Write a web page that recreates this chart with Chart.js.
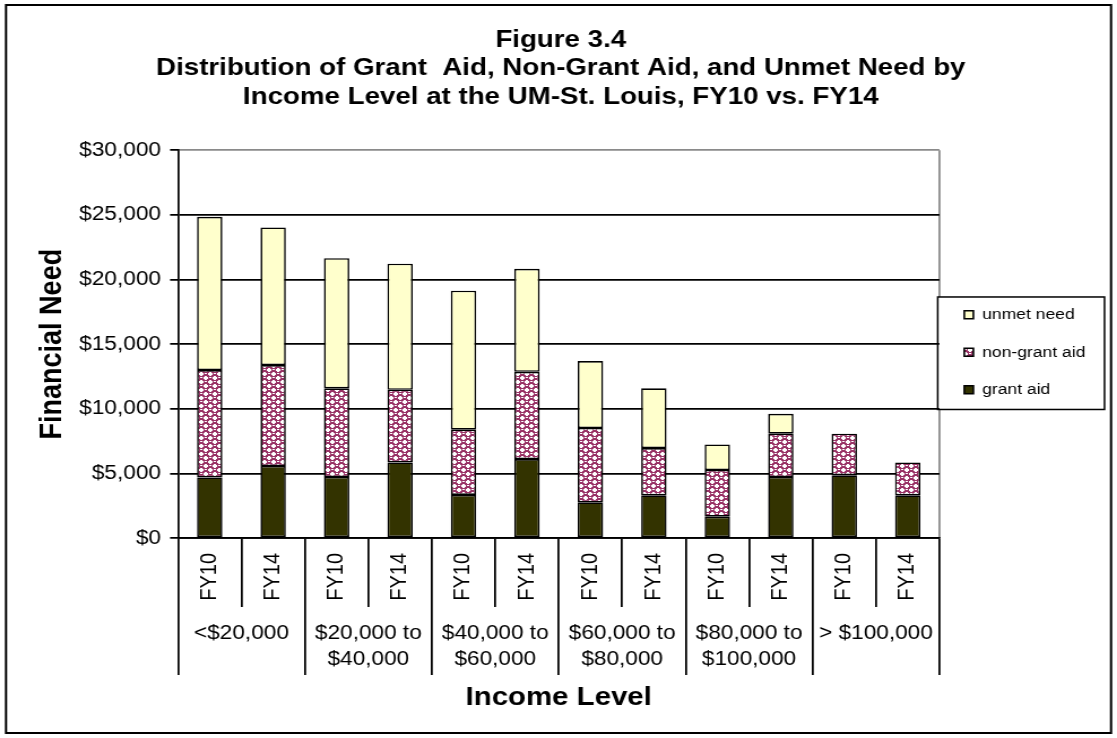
<!DOCTYPE html>
<html>
<head>
<meta charset="utf-8">
<title>Figure 3.4</title>
<script src="https://cdn.jsdelivr.net/npm/chart.js@4.4.1/dist/chart.umd.min.js"></script>
<style>
  html, body { margin: 0; padding: 0; background: #fff; overflow: hidden; }
  /* the figure is laid out on a narrower canvas and widened to the page */
  #wrap { width: 988px; height: 738px; transform: scaleX(1.1306); transform-origin: 0 0; }
</style>
</head>
<body>
<div id="wrap"><canvas id="needChart" width="988" height="738"></canvas></div>
<script>
// bar labels (two per income bracket)
const fiscalYears = ['FY10', 'FY14', 'FY10', 'FY14', 'FY10', 'FY14',
                     'FY10', 'FY14', 'FY10', 'FY14', 'FY10', 'FY14'];
// income brackets shown under each FY10/FY14 pair
const incomeLevels = [['<$20,000'], ['$20,000 to', '$40,000'], ['$40,000 to', '$60,000'],
                      ['$60,000 to', '$80,000'], ['$80,000 to', '$100,000'], ['> $100,000']];

// dollars per student, bottom to top of each stack
const grantAid    = [4690, 5570, 4720, 5850, 3330, 6110, 2760, 3300, 1650, 4720, 4850, 3300];
const nonGrantAid = [8300, 7810, 6860, 5620, 5050, 6750, 5750, 3660, 3610, 3350, 3220, 2550];
const unmetNeed   = [11860, 10650, 10070, 9750, 10750, 7970, 5180, 4620, 1980, 1540, 0, 0];

const yTicks = [0, 5000, 10000, 15000, 20000, 25000, 30000];

Chart.defaults.font.family = '"Liberation Sans", Arial, sans-serif';
Chart.defaults.color = '#000';

// magenta fill with white checker holes, used for the non-grant aid segments
function checkerPattern() {
  const tile = document.createElement('canvas');
  tile.width = 8;
  tile.height = 8;
  const t = tile.getContext('2d');
  t.fillStyle = '#993366';
  t.fillRect(0, 0, 8, 8);
  t.fillStyle = '#ffffff';
  [[4, 0], [0, 4]].forEach(([x, y]) => {
    t.fillRect(x, y + 1, 4, 2);
    t.fillRect(x + 1, y, 2, 4);
  });
  // small highlight in each magenta cell
  t.fillRect(1, 1, 2, 1);
  t.fillRect(5, 5, 2, 1);
  return t.createPattern(tile, 'repeat');
}

// white page, outer frame, right plot edge and the boxed legend
const frame = {
  id: 'frame',
  beforeDraw(chart) {
    const c = chart.ctx;
    const a = chart.chartArea;
    const lg = chart.legend;
    c.save();
    c.fillStyle = '#fff';
    c.fillRect(0, 0, chart.width, chart.height);

    c.strokeStyle = '#8a8a8a';
    c.lineWidth = 1.75;
    c.beginPath();
    c.moveTo(a.right, a.top);
    c.lineTo(a.right, a.bottom);
    c.stroke();

    const hits = lg.legendHitBoxes;
    const last = hits[hits.length - 1];
    const top = hits[0].top - 10;
    const bottom = last.top + last.height + 12;
    c.fillStyle = '#fff';
    c.fillRect(lg.left - 1.5, top, 147.5, bottom - top);
    c.strokeStyle = '#000';
    c.lineWidth = 1.5;
    c.strokeRect(lg.left - 1.5, top, 147.5, bottom - top);
    c.restore();
  },
  afterDraw(chart) {
    const c = chart.ctx;
    c.save();
    c.strokeStyle = '#000';
    c.lineWidth = 2;
    c.strokeRect(5.3, 5, 977.4, 728);
    c.restore();
  }
};

const barStyle = {
  borderColor: '#000',
  borderWidth: 1.6,
  borderSkipped: false,
  barPercentage: 0.4,
  categoryPercentage: 1.0
};

new Chart(document.getElementById('needChart'), {
  type: 'bar',
  data: {
    labels: fiscalYears,
    datasets: [
      { label: 'grant aid', data: grantAid, backgroundColor: '#333300', ...barStyle },
      { label: 'non-grant aid', data: nonGrantAid, backgroundColor: checkerPattern(), ...barStyle },
      { label: 'unmet need', data: unmetNeed, backgroundColor: '#FFFFCC', ...barStyle }
    ]
  },
  options: {
    responsive: false,
    animation: false,
    devicePixelRatio: 1,
    layout: { padding: { top: 5, left: 22, right: 18, bottom: 23 } },
    plugins: {
      title: {
        display: true,
        text: ['Figure 3.4',
               'Distribution of Grant  Aid, Non-Grant Aid, and Unmet Need by',
               'Income Level at the UM-St. Louis, FY10 vs. FY14'],
        color: '#000',
        font: { size: 24.5, weight: 'bold', lineHeight: 1.16 },
        padding: { top: 21, bottom: 39 }
      },
      legend: {
        position: 'right',
        fullSize: false,
        reverse: true,
        // empty heading only pushes the entries down a little
        title: { display: true, text: '', padding: 0, font: { size: 13.5, lineHeight: 1.2 } },
        labels: {
          boxWidth: 8,
          boxHeight: 8,
          padding: 22,
          color: '#000',
          font: { size: 15.5 }
        }
      },
      tooltip: { enabled: false }
    },
    scales: {
      x: {
        stacked: true,
        weight: 0,
        grid: { drawOnChartArea: false, offset: true, tickLength: 69, color: '#000', lineWidth: 1.75 },
        border: { display: true, color: '#000', width: 1.75 },
        ticks: { autoSkip: false, minRotation: 90, maxRotation: 90, padding: -54, font: { size: 20 } },
        afterFit: s => { s.height = 69; }
      },
      x2: {
        type: 'category',
        position: 'bottom',
        weight: 1,
        labels: incomeLevels,
        offset: true,
        grid: { drawOnChartArea: false, offset: true, tickLength: 68, color: '#000', lineWidth: 1.75 },
        border: { display: false },
        ticks: { autoSkip: false, minRotation: 0, maxRotation: 0, padding: -54, font: { size: 20, lineHeight: 1.27 } },
        title: {
          display: true,
          text: 'Income Level',
          font: { size: 26, weight: 'bold' },
          padding: { top: 0, bottom: 2 }
        },
        afterFit: s => { s.height = 108; }
      },
      y: {
        stacked: true,
        min: 0,
        max: 30000,
        afterBuildTicks: s => { s.ticks = yTicks.map(v => ({ value: v })); },
        grid: {
          color: c => (c.tick && c.tick.value === 30000 ? '#8a8a8a' : '#000'),
          tickColor: '#000',
          lineWidth: 1.75,
          tickLength: 7
        },
        border: { color: '#000', width: 1.75 },
        ticks: {
          padding: 8,
          font: { size: 20 },
          callback: v => '$' + v.toLocaleString('en-US')
        },
        title: {
          display: true,
          text: 'Financial Need',
          font: { size: 27, weight: 'bold' },
          padding: { top: 8, bottom: 0 }
        },
        afterFit: s => { s.width = 135.4; }
      }
    }
  },
  plugins: [frame]
});
</script>
</body>
</html>
